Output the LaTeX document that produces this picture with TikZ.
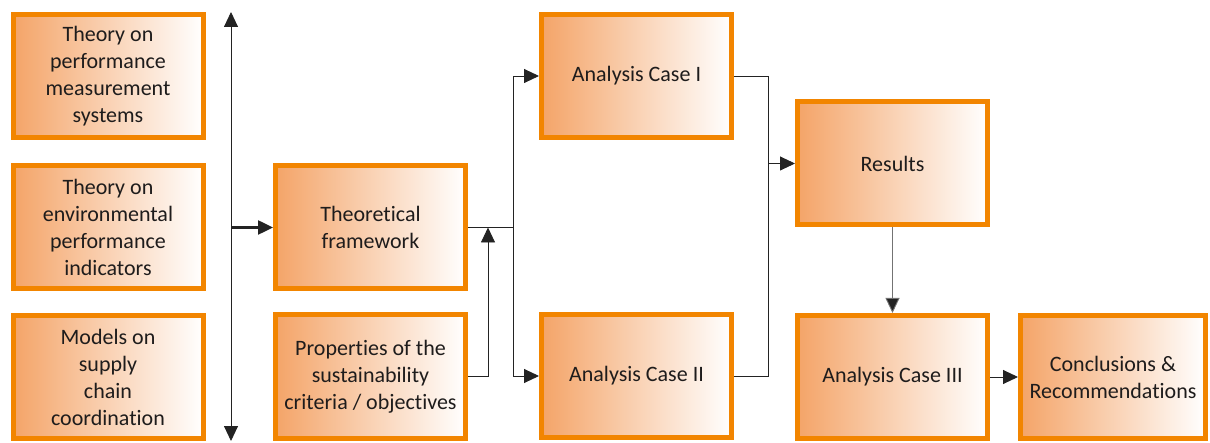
\documentclass[tikz,border=0pt]{standalone}
\usepackage{fontspec}
\setmainfont{Carlito}[RawFeature={-liga;-dlig}]
\usetikzlibrary{arrows.meta}
\definecolor{boxline}{RGB}{242,133,0}
\definecolor{boxfill}{RGB}{244,164,104}
\definecolor{ink}{RGB}{30,28,28}
\definecolor{wire}{RGB}{35,35,35}
\tikzset{
  stage/.style={draw=boxline, line width=5pt, left color=boxfill, right color=white,
    minimum width=190pt, minimum height=123pt, inner sep=2pt, align=center,
    text=ink, font=\fontsize{22}{27}\selectfont},
  link/.style={draw=wire, line width=0.9pt},
  arr/.style={link, -{Triangle[length=15pt, width=14pt]}},
}
\begin{document}
\begin{tikzpicture}[x=1pt, y=-1pt]
\useasboundingbox (0,0) rectangle (1210,443);

% source boxes
\node[stage] (b1) at (108,76) {Theory on\\performance\\measurement\\systems};
\node[stage] (b2) at (108,227) {Theory on\\environmental\\performance\\indicators};
\node[stage] (b3) at (108,377) {Models on\\supply\\chain\\coordination};

% middle column
\node[stage] (tf) at (370.5,227.5) {Theoretical\\framework};
\node[stage] (pr) at (370.5,376.5) {Properties of the\\sustainability\\criteria / objectives};

% analysis cases
\node[stage] (c1) at (636.5,76) {Analysis Case I};
\node[stage] (c2) at (636.5,376) {Analysis Case II};

% results and conclusions
\node[stage] (rs) at (892.5,163.5) {Results};
\node[stage] (c3) at (892.5,377) {Analysis Case III};
\node[stage, minimum width=185pt] (cr) at (1113,377) {Conclusions \&\\Recommendations};

% double-headed bar beside the source boxes
\coordinate (vt) at (231,12);
\coordinate (vb) at (231,441);
\coordinate (vm) at (231,227.5);
\draw[link, {Triangle[length=15pt, width=14pt]}-{Triangle[length=15pt, width=14pt]}] (vt) -- (vb);
\draw[link, line width=2.5pt, -{Triangle[length=15pt, width=14pt]}] (vm) -- (tf.west);

% framework to the two cases
\coordinate (j1) at (513,227.5);
\draw[link] (tf.east) -- (j1);
\draw[arr] (j1) |- (c1.west);
\draw[arr] (j1) |- (c2.west);

% properties feed into the framework output
\coordinate (jp) at (488,227.5);
\draw[arr] (pr.east) -| (jp);

% cases merge into results
\coordinate (j2) at (768,163.5);
\draw[link] (c1.east) -| (j2);
\draw[link] (c2.east) -| (j2);
\draw[arr] (j2) -- (rs.west);

\draw[arr, draw=gray!90!black, -{Triangle[length=15pt, width=14pt, fill=wire]}] (rs.south) -- (c3.north);
\draw[arr] (c3.east) -- (cr.west);
\end{tikzpicture}
\end{document}
